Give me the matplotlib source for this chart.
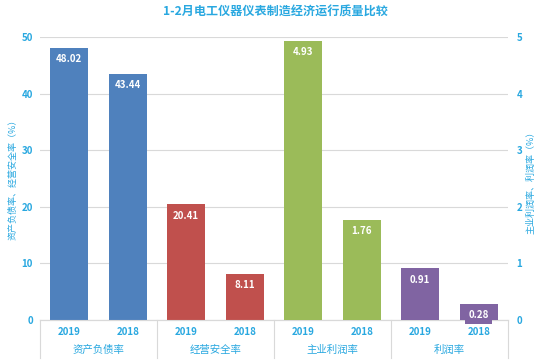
import matplotlib
matplotlib.use("Agg")
import matplotlib.pyplot as plt
from matplotlib.transforms import blended_transform_factory

plt.rcParams['font.family'] = ['Noto Sans CJK SC', 'DejaVu Sans']

groups = ['资产负债率', '经营安全率', '主业利润率', '利润率']
years = ['2019', '2018']
left_values = [48.02, 43.44, 20.41, 8.11]   # 资产负债率, 经营安全率 (left axis)
right_values = [4.93, 1.76, 0.91, 0.28]     # 主业利润率, 利润率 (right axis)
colors = ['#4F81BD', '#C0504D', '#9BBB59', '#8064A2']
title = '1-2月电工仪器仪表制造经济运行质量比较'
left_label = '资产负债率、经营安全率（%）'
right_label = '主业利润率、利润率（%）'

txt_color = '#29A8E0'
grid_color = '#D9D9D9'

fig = plt.figure(figsize=(5.5, 3.61), dpi=100)
ax = fig.add_axes([40/550, 1-320/361, 468/550, (320-37)/361])
ax2 = ax.twinx()

bw = 0.65
xs = list(range(8))
# left-axis bars
for i, v in enumerate(left_values):
    c = colors[i // 2]
    ax.bar(xs[i], v, width=bw, color=c, zorder=3)
    ax.annotate(f'{v:.2f}', (xs[i], v), xytext=(0, -8), textcoords='offset points',
                ha='center', va='center', color='white', fontsize=7, fontweight='bold',
                bbox=dict(boxstyle='square,pad=0.35', fc=c, ec='none'), zorder=5)
for j, v in enumerate(right_values):
    i = j + 4
    c = colors[i // 2]
    ax2.bar(xs[i], v, width=bw, color=c, zorder=3)
    ax2.annotate(f'{v:.2f}', (xs[i], v), xytext=(0, -8), textcoords='offset points',
                 ha='center', va='center', color='white', fontsize=7, fontweight='bold',
                 bbox=dict(boxstyle='square,pad=0.35', fc=c, ec='none'), zorder=5)

ax.set_xlim(-0.5, 7.5)
ax.set_ylim(0, 50)
ax2.set_ylim(0, 5)
ax.set_yticks(range(0, 51, 10))
ax2.set_yticks(range(0, 6))
ax.yaxis.grid(True, color=grid_color, lw=0.8, zorder=0)
ax.set_axisbelow(True)

for a in (ax, ax2):
    for s in ('top', 'left', 'right'):
        a.spines[s].set_visible(False)
    a.spines['bottom'].set_color(grid_color)
    a.tick_params(axis='y', length=0, colors=txt_color, labelsize=7)
ax.tick_params(axis='y', pad=5)
ax2.tick_params(axis='y', pad=6)
for lab in ax.get_yticklabels() + ax2.get_yticklabels():
    lab.set_fontweight('bold')

ax.set_xticks(xs)
ax.set_xticklabels(years * 4, fontsize=7, color=txt_color, fontweight='bold')
ax.tick_params(axis='x', length=0, pad=5)

trans = blended_transform_factory(ax.transData, ax.transAxes)
for k, g in enumerate(groups):
    ax.text(2 * k + 0.5, -0.105, g, transform=trans, ha='center', va='center',
            fontsize=7.5, color=txt_color)
for b in [-0.5, 1.5, 3.5, 5.5, 7.5]:
    ax.plot([b, b], [0, -0.135], transform=trans, color=grid_color, lw=0.8, clip_on=False)

fig.text(13/550, 1-177/361, left_label, rotation=90, ha='center', va='center',
         fontsize=6.5, color=txt_color)
fig.text(531/550, 1-180/361, right_label, rotation=90, ha='center', va='center',
         fontsize=6.5, color=txt_color)
fig.text(0.5, 1-12/361, title, ha='center', va='center', fontsize=8.7,
         fontweight='bold', color=txt_color)

fig.savefig('out.png', dpi=100)
